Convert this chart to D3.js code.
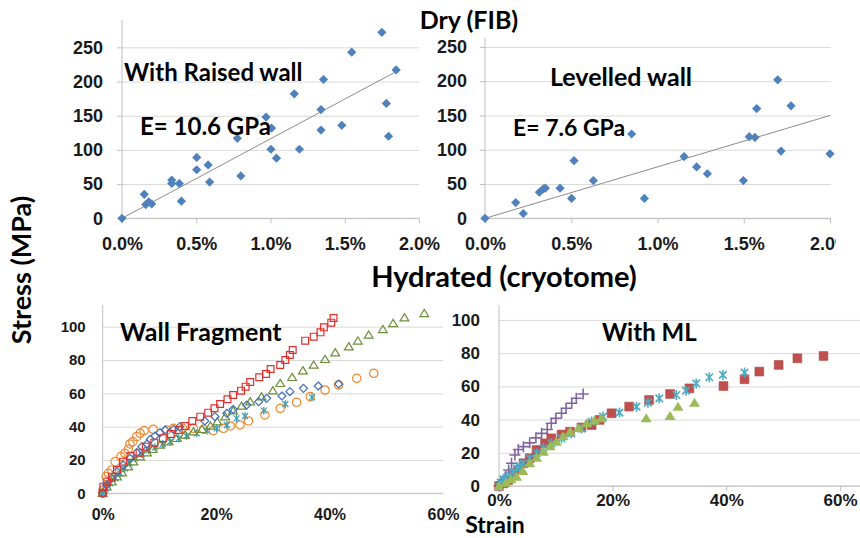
<!DOCTYPE html>
<html>
<head>
<meta charset="utf-8">
<script src="https://cdn.jsdelivr.net/npm/d3@7.9.0/dist/d3.min.js"></script>
<style>
  html, body { margin: 0; padding: 0; background: #fff; }
  svg { display: block; font-family: Lato, "Open Sans", sans-serif; }
  .tick text { font-weight: bold; fill: #1a1a1a; }
</style>
</head>
<body>
<svg id="chart" width="860" height="538"></svg>
<script>
// ---- data (strain in %, stress in MPa) ----
const raisedStrain = [0, 0.15, 0.16, 0.18, 0.20, 0.335, 0.335, 0.386, 0.40, 0.503, 0.503, 0.58, 0.59, 0.777, 0.80, 0.97, 1.007, 1.003, 1.04, 1.16, 1.195, 1.34, 1.34, 1.357, 1.48, 1.547, 1.75, 1.846, 1.78, 1.795];
const raisedStress = [0, 35, 20, 24, 21, 56, 51, 51, 25, 89, 71, 78, 53, 117, 62, 148, 132, 101, 88, 182, 101, 159, 129, 203, 136, 243, 272, 217, 168, 120];
const raisedFit = [[0, 0], [1.85, 215]];

const levelStrain = [0, 0.178, 0.222, 0.315, 0.338, 0.35, 0.435, 0.502, 0.516, 0.628, 0.85, 0.924, 1.154, 1.227, 1.289, 1.498, 1.532, 1.565, 1.575, 1.697, 1.716, 1.774, 2.0];
const levelStress = [0, 23, 7, 38, 43, 44, 44, 29, 84, 55, 123, 29, 90, 75, 65, 55, 119, 118, 160, 202, 98, 164, 94];
const levelFit = [[0, 0], [2, 150]];

const dryStressTicks = [0, 50, 100, 150, 200, 250];
const dryStrainTicks = [0, 0.5, 1.0, 1.5, 2.0];
const wetStressTicks = [0, 20, 40, 60, 80, 100];
const wetStrainTicks = [0, 20, 40, 60];

// wall fragment (hydrated)
const fragRed = [[0,0.4],[0.1,4],[0.8,7],[1.6,10],[2.5,14],[3.6,19],[4.9,22.4],[6.5,24.4],[7.6,28],[9.1,30.4],[10.6,33],[12,35.6],[13.4,38],[14.5,40.4],[15.8,43.4],[17.2,46],[18.6,48.4],[19.7,51],[20.7,53.6],[22,56.4],[23,59],[24.4,61.6],[25.2,64],[26,66.8],[27.6,69.6],[28.8,71.6],[29.6,74.6],[31.3,77],[32.2,80],[33,83],[33.5,86],[35.7,91.6],[37.2,94],[38.4,96.6],[39,99.6],[40.3,102.4],[40.7,105.2]];
const fragBlue = [[0,0],[0.7,5],[1.6,9],[2.5,13],[3.6,17],[4.8,21],[6,24.4],[6.9,28],[7.8,29.6],[8.4,32.4],[9.2,34.4],[10.1,36.4],[11,38],[12.5,38.4],[13.6,40],[18,43.4],[19.8,46],[21.9,48],[23,50.4],[25.4,53],[27.5,55],[28.9,57],[31.6,58.4],[33,61],[35.4,63],[38,64.4],[41.6,65.6]];
const fragGreen = [[0,0],[0.7,4],[1.6,7],[2.5,10],[3.4,12.4],[4.5,16],[5.4,19],[6.6,22],[7.8,24.4],[8.8,26.4],[10.1,29],[11.6,31],[13,33],[14.5,35],[16,37],[17.5,38.4],[19,40.4],[20.2,43],[21.6,46],[23,49.6],[24.5,52.4],[26,55],[28,58],[30,61.6],[31.3,66],[33.4,69.6],[35.3,73.6],[37.2,77],[39.2,80.4],[41,84.4],[43.4,88],[45,91.4],[46.9,95],[49.4,98.4],[51.2,102],[53.2,105.4],[56.7,108]];
const fragTeal = [[0,0],[0.6,3],[1.3,6],[2.2,9],[3.1,12],[3.9,15],[4.8,18],[5.7,21],[6.9,23.6],[8.1,26],[9.2,27.6],[10.6,29.6],[11.9,31],[13.4,33],[14.8,34.4],[16.6,36],[18.4,37.6],[20.1,39],[21.9,41],[23.6,45],[25.1,46.4],[28.4,49.6],[32.2,53.6],[36.9,57.6]];
const fragOrange = [[0,0],[0.1,2],[0.6,10],[1,12],[1.6,14],[2.2,19],[3.2,22],[3.9,24],[4.5,26.4],[4.8,29.6],[5.3,31],[6,34],[6.6,36],[7.3,37.6],[8.9,38.4],[11.3,38],[12.5,39],[14.1,39],[16,39],[17.8,38.4],[19.5,37.6],[21.3,39],[22.5,40.4],[24.2,41],[25.7,43.4],[28.6,47],[31.3,51],[34.2,54.6],[36.6,58],[39.2,62],[41.6,65],[44.8,69],[47.8,72]];

// with middle lamella (hydrated)
const mlPurple = [[0,0],[0.5,2.6],[1.1,5.6],[1.7,9.6],[2.2,13.7],[2.8,18.7],[3.4,22],[4.3,23.7],[5.4,26],[6.5,29],[7.5,31.7],[8.5,34],[9.2,37.8],[10,40.8],[11,43.8],[11.8,46.8],[12.8,49.8],[13.6,52.8],[14.8,55.4]];
const mlRed = [[0,0],[0.8,1.6],[1.6,3.6],[2.5,6.6],[3.4,9.6],[4.3,13.7],[5.4,16.7],[6.6,21.7],[8.1,25.7],[9.2,28.7],[11,31],[12.5,32.7],[14.5,35.3],[16.3,36.7],[17.7,39.8],[19.8,43.8],[22.9,47.8],[26.4,51.8],[30.1,55.4],[33.5,58.8],[39.5,60.2],[43.2,64.3],[45.8,68.9],[49.2,72.9],[52.5,76.9],[57.1,78.3]];
const mlGreen = [[0,0],[1.2,2],[2.1,4],[3.1,5.6],[4.2,9],[5.4,13.7],[6.6,17],[7.8,20.7],[9,24],[10.1,26.7],[11.3,30],[12.5,32.7],[14,35],[15.4,37.8],[16.8,39.5],[18,40.8],[25.9,40.8],[30.1,42.2],[31.5,47.8],[34.4,50.2]];
const mlTeal = [[0,0],[0.3,2],[0.8,4],[1.3,5],[1.9,6.6],[2.5,8.5],[3.1,10.6],[3.7,12],[4.3,13.7],[5.4,16.7],[6.6,19.7],[7.8,22.7],[9.2,25.7],[11,28.7],[12.7,31.7],[14.5,34.7],[16.3,38.8],[18.3,41.8],[21.2,44.2],[24.2,47.8],[26.2,50.2],[28.2,52.8],[31.2,54.8],[32.9,57.4],[34.7,61.8],[37,65.5],[39.4,66.9],[43.2,68.3]];

// ---- drawing ----
const svg = d3.select('#chart');
const gridColor = '#d9d9d9';
const axisColor = '#bfbfbf';

svg.append('defs').append('clipPath').attr('id', 'clipRight')
  .append('rect').attr('x', 430).attr('y', 0).attr('width', 406).attr('height', 270);

function makePanel(o) {
  const g = svg.append('g');
  if (o.clip) g.attr('clip-path', 'url(#clipRight)');
  const x = d3.scaleLinear().domain(o.xDomain).range(o.xRange);
  const y = d3.scaleLinear().domain(o.yDomain).range(o.yRange);

  // gridlines + y labels
  const ya = d3.axisLeft(y).tickValues(o.yTicks)
    .tickSize(-(o.gridEnd - x(0)))
    .tickPadding(o.yPad);
  const yg = g.append('g').attr('transform', `translate(${x(0)},0)`).call(ya);
  yg.select('.domain').remove();
  yg.selectAll('.tick line').attr('stroke', gridColor).attr('stroke-width', 1);
  yg.selectAll('.tick text').style('font-size', o.yFont + 'px');
  if (o.stub) {
    yg.selectAll('.tick').append('line')
      .attr('x1', -5).attr('x2', 0).attr('stroke', axisColor);
  }

  // x axis
  const xa = d3.axisBottom(x).tickValues(o.xTicks).tickSize(o.xTick).tickFormat(o.xFormat);
  const xg = g.append('g').attr('transform', `translate(0,${y(0)})`).call(xa);
  xg.select('.domain').attr('stroke', axisColor).attr('d', `M${x(0)},0H${o.gridEnd}`);
  xg.selectAll('.tick line').attr('stroke', axisColor);
  xg.selectAll('.tick text').attr('y', o.xBase).attr('dy', 0)
    .style('font-size', o.xFont + 'px');

  // y axis line
  g.append('line').attr('x1', x(0)).attr('x2', x(0))
    .attr('y1', y(0)).attr('y2', y(o.yDomain[1]))
    .attr('stroke', axisColor);

  return { g, x, y };
}

function diamond(r) { return `M0,${-r}L${r},0L0,${r}L${-r},0Z`; }
function square(r) { return `M${-r},${-r}H${r}V${r}H${-r}Z`; }
function triangle(r) { return `M0,${-r}L${r * 1.1},${r * 0.8}L${-r * 1.1},${r * 0.8}Z`; }
function ring(r) { return `M${r},0A${r},${r} 0 1,1 ${-r},0A${r},${r} 0 1,1 ${r},0Z`; }
function star(r) { const a = r * 0.75; return `M${-a},${-a}L${a},${a}M${-a},${a}L${a},${-a}M0,${-r}V${r}`; }
function plus(r) { return `M${-r},0H${r}M0,${-r}V${r}`; }

function marks(p, data, path, fill, stroke, sw) {
  p.g.append('g').selectAll('path').data(data).join('path')
    .attr('transform', d => `translate(${p.x(d[0])},${p.y(d[1])})`)
    .attr('d', path)
    .attr('fill', fill)
    .attr('stroke', stroke)
    .attr('stroke-width', sw);
}

function fitLine(p, pts) {
  p.g.append('line')
    .attr('x1', p.x(pts[0][0])).attr('y1', p.y(pts[0][1]))
    .attr('x2', p.x(pts[1][0])).attr('y2', p.y(pts[1][1]))
    .attr('stroke', '#8c8c8c').attr('stroke-width', 1);
}

function label(txt, x, y, size, anchor) {
  svg.append('text').attr('x', x).attr('y', y)
    .attr('text-anchor', anchor || 'start')
    .style('font-size', size + 'px').style('font-weight', 'bold')
    .attr('fill', '#000').text(txt);
}

const pctDry = d => d3.format('.1f')(d) + '%';
const pctWet = d => d + '%';

// top left: raised wall
const p1 = makePanel({ xDomain: [0, 2], xRange: [122, 419], yDomain: [0, 290], yRange: [218.3, 20],
  yTicks: dryStressTicks, xTicks: dryStrainTicks, gridEnd: 419, yPad: 19, yFont: 18,
  xBase: 32, xFont: 18, xTick: 5, xFormat: pctDry, stub: true });
fitLine(p1, raisedFit);
marks(p1, d3.zip(raisedStrain, raisedStress), diamond(4.6), '#4f81bd', 'none', 0);

// top right: levelled wall
const p2 = makePanel({ xDomain: [0, 2], xRange: [485, 830], yDomain: [0, 263], yRange: [218.3, 38],
  yTicks: dryStressTicks, xTicks: dryStrainTicks, gridEnd: 831, yPad: 18, yFont: 18,
  xBase: 32, xFont: 18, xTick: 5, xFormat: pctDry, stub: true, clip: true });
fitLine(p2, levelFit);
marks(p2, d3.zip(levelStrain, levelStress), diamond(4.6), '#4f81bd', 'none', 0);

// bottom left: wall fragment
const p3 = makePanel({ xDomain: [0, 60], xRange: [102.7, 443], yDomain: [0, 113], yRange: [493.3, 305],
  yTicks: wetStressTicks, xTicks: wetStrainTicks, gridEnd: 443, yPad: 17, yFont: 15,
  xBase: 27, xFont: 16, xTick: 0, xFormat: pctWet });
marks(p3, fragOrange, ring(4.2), 'none', '#f0892f', 1.2);
marks(p3, fragTeal, star(4), 'none', '#3d9cb5', 1.2);
marks(p3, fragGreen, triangle(4), 'none', '#6e8f3b', 1.2);
marks(p3, fragBlue, diamond(4), 'none', '#3f6fb5', 1.2);
marks(p3, fragRed, square(3.4), 'none', '#e0302e', 1.2);

// bottom right: with ML
const p4 = makePanel({ xDomain: [0, 60], xRange: [499, 840], yDomain: [0, 109], yRange: [486, 305],
  yTicks: wetStressTicks, xTicks: wetStrainTicks, gridEnd: 860, yPad: 19, yFont: 17,
  xBase: 20, xFont: 17, xTick: 5, xFormat: pctWet });
marks(p4, mlPurple, plus(5.5), 'none', '#8064a2', 1.6);
marks(p4, mlRed, square(4.4), '#c0504d', '#b04542', 0.6);
marks(p4, mlTeal, star(5), 'none', '#4bacc6', 1.6);
marks(p4, mlGreen, triangle(5), '#9bbb59', 'none', 0);

// titles and annotations
label('Dry (FIB)', 469, 29, 25, 'middle');
label('With Raised wall', 124, 81, 24);
label('E= 10.6 GPa', 140, 135, 24);
label('Levelled wall', 550, 86, 25);
label('E= 7.6 GPa', 513, 136, 23);
label('Hydrated (cryotome)', 504, 287, 29, 'middle');
label('Wall Fragment', 120, 341, 25);
label('With ML', 602, 341, 24);
label('Strain', 495, 533, 23, 'middle');
svg.append('text')
  .attr('transform', 'translate(31,270) rotate(-90)')
  .attr('text-anchor', 'middle')
  .style('font-size', '27px').style('font-weight', 'bold')
  .text('Stress (MPa)');
</script>
</body>
</html>
